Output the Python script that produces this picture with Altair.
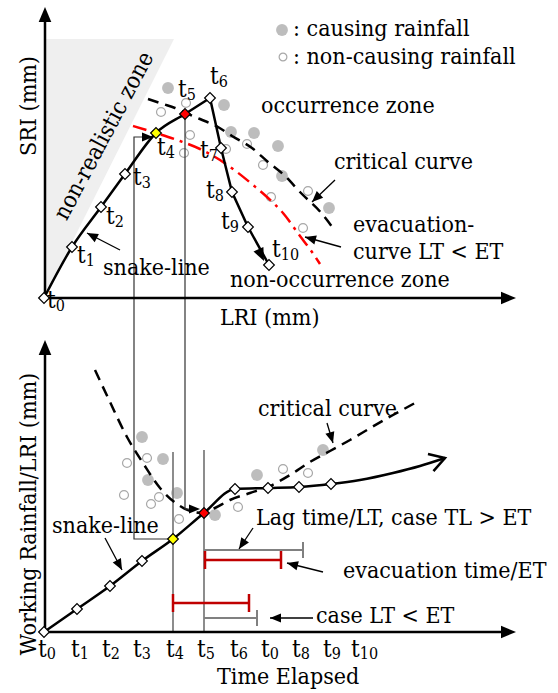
import math
import altair as alt
import pandas as pd

W, H = 558, 693
FONT = "DejaVu Serif Condensed"
FS = 23
TS = 24
SUB = 16
T_ADV = 8.8

# ---------------- upper diagram: SRI vs LRI ----------------
top_rise_x = [44, 72, 101, 125, 156, 185, 210]
top_rise_y = [298, 247, 207, 174, 133, 114, 98]
top_fall_x = [210, 221, 232, 248, 269]
top_fall_y = [98, 148, 192, 227, 265]
top_label_x = [47, 77, 106, 133, 157, 178, 210, 200, 206, 221, 272]
top_label_y = [308, 263, 224, 185, 155, 97, 84, 158, 198, 229, 257]
top_label_sub = ["0", "1", "2", "3", "4", "5", "6", "7", "8", "9", "10"]

top_cause_x = [168, 224, 231, 254, 278, 282, 329]
top_cause_y = [88, 105, 132, 133, 146, 176, 208]
top_non_x = [186, 161, 190, 184, 226, 247, 263, 271, 308, 303]
top_non_y = [103, 112, 135, 153, 149, 144, 165, 197, 191, 228]

top_crit_x = [148, 163, 175, 186, 200, 218, 232, 252, 268, 285, 300, 323, 335]
top_crit_y = [99, 104, 108, 113, 119, 127, 136, 148, 162, 176, 192, 215, 231]
top_evac_x = [133, 156, 180, 200, 220, 237, 253, 267, 283, 300, 312, 320]
top_evac_y = [126, 133, 141, 149, 160, 172, 185, 197, 213, 236, 252, 264]

zone_y = [39, 298]
zone_left = [46, 44]
zone_right = [174, 44]

# ---------------- lower diagram: working rainfall vs time ----------------
bot_x = [44, 77, 110, 142, 173, 204, 235, 268, 299, 331]
bot_y = [632, 609, 586, 561, 539, 513, 489, 488, 487, 484]
bot_tail_x = [331, 360, 393, 420, 445]
bot_tail_y = [484, 480, 473, 466, 458]
bot_tick_x = [38, 71, 102, 133, 166, 197, 230, 261, 292, 323, 351]
bot_tick_y = 657
bot_tick_sub = ["0", "1", "2", "3", "4", "5", "6", "0", "8", "9", "10"]

bot_cause_x = [142, 163, 148, 177, 215, 257, 323]
bot_cause_y = [437, 459, 480, 493, 515, 475, 450]
bot_non_x = [127, 147, 124, 151, 159, 179, 238, 283, 308]
bot_non_y = [463, 458, 495, 504, 497, 519, 507, 469, 473]

bot_crit_x = [95, 110, 127, 143, 160, 177, 190, 203, 215, 230, 250, 270, 290,
              310, 330, 350, 372, 393, 415]
bot_crit_y = [370, 402, 437, 463, 488, 504, 511, 513, 508, 500, 493, 486, 475,
              462, 451, 440, 427, 415, 403]

# lag time (grey) and evacuation time (red) bars: start, end, level
lt_start = [204, 204]
lt_end = [303, 257]
lt_level = [550, 618]
et_start = [205, 173]
et_end = [281, 249]
et_level = [560, 603]

# texts: string, left x, baseline y
texts = [
    (": causing rainfall", 293, 36),
    (": non-causing rainfall", 293, 64),
    ("occurrence zone", 261, 113),
    ("critical curve", 334, 169),
    ("evacuation-", 353, 232),
    ("curve LT < ET", 353, 259),
    ("non-occurrence zone", 230, 287),
    ("LRI (mm)", 220, 325),
    ("snake-line", 103, 275),
    ("critical curve", 258, 416),
    ("snake-line", 52, 533),
    ("Lag time/LT, case TL > ET", 256, 525),
    ("evacuation time/ET", 343, 578),
    ("case LT < ET", 316, 623),
    ("Time Elapsed", 217, 684),
]
rot_texts = [
    ("SRI (mm)", 29, 106, 270),
    ("Working Rainfall/LRI (mm)", 29, 514, 270),
    ("non-realistic zone", 104, 136, 298),
]

# arrows: tip, tail
label_arrows = [
    ((87, 233), (120, 250)),
    ((312, 202), (335, 180)),
    ((305, 237), (341, 247)),
    ((333, 443), (327, 423)),
    ((122, 570), (105, 538)),
    ((239, 549), (253, 528)),
    ((287, 563), (323, 572)),
    ((270, 618), (313, 618)),
]
axis_arrows = [
    ((45, 7), (45, 30)),
    ((516, 298), (490, 298)),
    ((45, 340), (45, 370)),
    ((516, 632), (490, 632)),
]
connector_a = ([173, 134, 134, 150], [539, 539, 137, 137])
connector_b = ([185, 185, 196], [114, 509, 509])
connector_heads = [((153, 137), (134, 137)), ((200, 509), (186, 509))]
t10_head = [((264, 261), (248, 227))]

# ---------------------------------------------------------------
XS = alt.Scale(domain=[0, W], nice=False, zero=False)
YS = alt.Scale(domain=[0, H], nice=False, zero=False, reverse=True)


def xy(**extra):
    return dict(x=alt.X("x:Q", scale=XS, axis=None),
                y=alt.Y("y:Q", scale=YS, axis=None), **extra)


def polyline(xs, ys, **mark):
    d = pd.DataFrame({"x": xs, "y": ys, "i": list(range(len(xs)))})
    return alt.Chart(d).mark_line(**mark).encode(**xy(order="i:Q"))


def segments(rows, **mark):
    d = pd.DataFrame(rows, columns=["x", "y", "x2", "y2"])
    return alt.Chart(d).mark_rule(**mark).encode(**xy(x2="x2:Q", y2="y2:Q"))


HEAD = "M0,0L-1,-0.42L-1,0.42Z"
CHEVRON = "M-1,-0.6L0,0L-1,0.6"


def heads(pairs, L, shape=HEAD, filled=True, **mark):
    recs = []
    for (tx, ty), (fx, fy) in pairs:
        recs.append({"x": tx, "y": ty,
                     "a": math.degrees(math.atan2(ty - fy, tx - fx)) % 360,
                     "s": 4 * L * L})
    d = pd.DataFrame(recs)
    return alt.Chart(d).mark_point(shape=shape, filled=filled, opacity=1, **mark).encode(
        **xy(angle=alt.Angle("a:Q", scale=None), size=alt.Size("s:Q", scale=None)))


def dots(xs, ys, filled, size, color, **mark):
    d = pd.DataFrame({"x": xs, "y": ys})
    return alt.Chart(d).mark_point(shape="circle", filled=filled, size=size,
                                   color=color, opacity=1, **mark).encode(**xy())


layers = []

# non-realistic zone
zone = pd.DataFrame({"y": zone_y, "x": zone_left, "x2": zone_right})
layers.append(alt.Chart(zone).mark_area(orient="horizontal", color="#efefef", opacity=1)
              .encode(**xy(x2="x2:Q")))

# rainfall dots
CAUSE = "#bdbdbd"
NONC = "#a8a8a8"
layers += [
    dots(top_cause_x, top_cause_y, True, 140, CAUSE),
    dots(top_non_x, top_non_y, False, 80, NONC, strokeWidth=1.2),
    dots(bot_cause_x, bot_cause_y, True, 140, CAUSE),
    dots(bot_non_x, bot_non_y, False, 80, NONC, strokeWidth=1.2),
    dots([282], [30], True, 140, CAUSE),
    dots([283], [57], False, 60, NONC, strokeWidth=1.2),
]

# time guide lines and bars
layers.append(segments([(173, 452, 173, 632), (204, 450, 204, 632)],
                       color="#808080", strokeWidth=1.8))
lt_rows = [(s, y, e, y) for s, e, y in zip(lt_start, lt_end, lt_level)]
lt_rows += [(e, y - 8, e, y + 8) for e, y in zip(lt_end, lt_level)]
layers.append(segments(lt_rows, color="#808080", strokeWidth=2))
et_rows = [(s, y, e, y) for s, e, y in zip(et_start, et_end, et_level)]
et_rows += [(s, y - 9, s, y + 9) for s, y in zip(et_start, et_level)]
et_rows += [(e, y - 9, e, y + 9) for e, y in zip(et_end, et_level)]
layers.append(segments(et_rows, color="#c00000", strokeWidth=2.5))

# threshold curves
layers.append(polyline(top_crit_x, top_crit_y, color="black", strokeWidth=2.5,
                       strokeDash=[11, 7], interpolate="monotone"))
layers.append(polyline(top_evac_x, top_evac_y, color="#ff0000", strokeWidth=2.5,
                       strokeDash=[14, 6, 3, 6], interpolate="monotone"))
layers.append(polyline(bot_crit_x, bot_crit_y, color="black", strokeWidth=2.5,
                       strokeDash=[11, 7], interpolate="monotone"))

# connectors between the two diagrams
layers.append(polyline(*connector_a, color="#333333", strokeWidth=1.2))
layers.append(polyline(*connector_b, color="#333333", strokeWidth=1.2))

# axes
layers.append(segments([(45, 298, 45, 20), (44, 298, 505, 298),
                        (45, 632, 45, 352), (44, 632, 505, 632)],
                       color="black", strokeWidth=2.5))

# snake lines
layers.append(polyline(top_rise_x, top_rise_y, color="black", strokeWidth=2.5,
                       interpolate="monotone"))
layers.append(polyline(top_fall_x, top_fall_y, color="black", strokeWidth=2.5))
layers.append(polyline(bot_x + bot_tail_x[1:], bot_y + bot_tail_y[1:], color="black",
                       strokeWidth=2.5, interpolate="monotone"))
layers.append(heads([((bot_tail_x[-1], bot_tail_y[-1]), (bot_tail_x[-2], bot_tail_y[-2]))],
                    15, shape=CHEVRON, filled=False, color="black", strokeWidth=2.5))

# annotation arrows
layers.append(segments([(f[0], f[1], t[0], t[1]) for t, f in label_arrows],
                       color="black", strokeWidth=1.3))
layers.append(heads(label_arrows, 11, color="black"))
layers.append(heads(axis_arrows, 15, color="black"))
layers.append(heads(connector_heads, 11, color="black"))
layers.append(heads(t10_head, 13, color="black"))

# time-step markers
mfill = ["white"] * 11
mfill[4] = "#ffff00"
mfill[5] = "#ff0000"
top_m = pd.DataFrame({"x": top_rise_x + top_fall_x[1:], "y": top_rise_y + top_fall_y[1:],
                      "f": mfill})
bfill = ["white"] * 10
bfill[4] = "#ffff00"
bfill[5] = "#ff0000"
bot_m = pd.DataFrame({"x": bot_x, "y": bot_y, "f": bfill})
for m in (top_m, bot_m):
    layers.append(alt.Chart(m).mark_point(shape="diamond", filled=True, opacity=1, size=115,
                                          stroke="black", strokeWidth=1.2)
                  .encode(**xy(fill=alt.Fill("f:N", scale=None))))

# texts
rows = [{"x": x, "y": y, "t": s, "s": FS} for s, x, y in texts]
for x, y, sub in zip(top_label_x, top_label_y, top_label_sub):
    rows.append({"x": x, "y": y, "t": "t", "s": TS})
    rows.append({"x": x + T_ADV, "y": y + 3, "t": sub, "s": SUB})
for x, sub in zip(bot_tick_x, bot_tick_sub):
    rows.append({"x": x, "y": bot_tick_y, "t": "t", "s": TS})
    rows.append({"x": x + T_ADV, "y": bot_tick_y + 2, "t": sub, "s": SUB})
layers.append(alt.Chart(pd.DataFrame(rows)).mark_text(align="left", baseline="alphabetic",
                                                      font=FONT, color="black")
              .encode(**xy(text="t:N", size=alt.Size("s:Q", scale=None))))
rdf = pd.DataFrame([{"x": x, "y": y, "t": s, "a": a} for s, x, y, a in rot_texts])
layers.append(alt.Chart(rdf).mark_text(align="center", baseline="middle", font=FONT,
                                       fontSize=FS, color="black")
              .encode(**xy(text="t:N", angle=alt.Angle("a:Q", scale=None))))

chart = alt.layer(*layers).properties(
    width=W, height=H, autosize="none", padding=0, background="white"
).configure_view(stroke=None)

chart.save("out.html", embed_options={"renderer": "svg", "actions": False})
